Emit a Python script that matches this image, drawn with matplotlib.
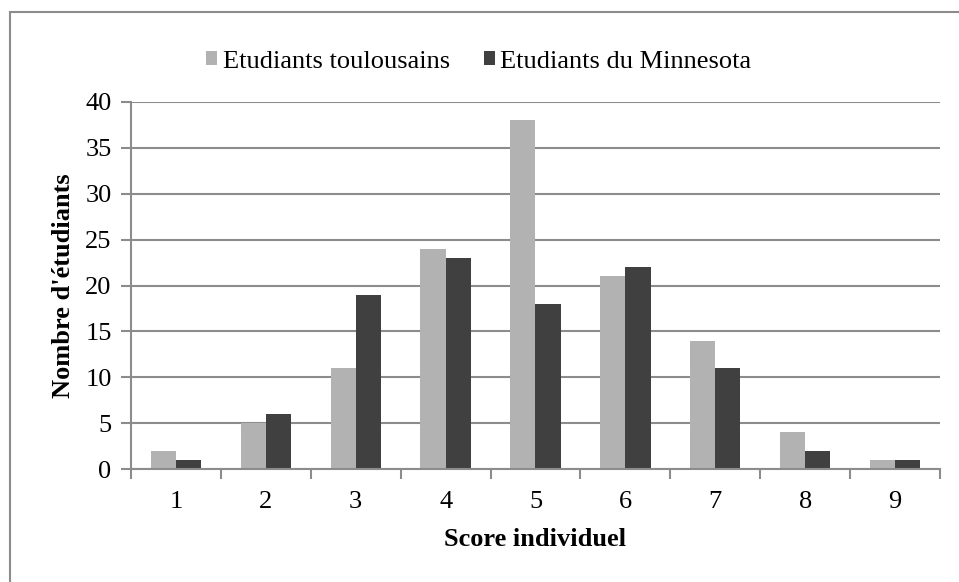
import matplotlib.pyplot as plt
import numpy as np
from matplotlib.patches import Rectangle

plt.rcParams['font.family'] = ['Liberation Serif', 'DejaVu Serif']

scores = ['1', '2', '3', '4', '5', '6', '7', '8', '9']
toulouse = [2, 5, 11, 24, 38, 21, 14, 4, 1]
minnesota = [1, 6, 19, 23, 18, 22, 11, 2, 1]

fs = 19
fig = plt.figure(figsize=(9.59, 5.82), dpi=100)
# cadre exterieur
fig.patches.append(Rectangle((10/959, -0.1), 1.2, (582-12)/582 + 0.1, transform=fig.transFigure,
                             fill=False, edgecolor='#8c8c8c', linewidth=1.5))

ax = fig.add_axes([131/959, 1 - 469/582, (940-131)/959, (469-102)/582])
x = np.arange(len(scores))
w = 0.28
ax.bar(x - w/2, toulouse, w, color='#b2b2b2', label='Etudiants toulousains')
ax.bar(x + w/2, minnesota, w, color='#404040', label='Etudiants du Minnesota')

ax.set_xlim(-0.5, len(scores) - 0.5)
ax.set_ylim(0, 40)
ax.set_yticks(range(0, 41, 5))
ax.yaxis.grid(True, color='#8c8c8c', linewidth=1.5)
ax.set_axisbelow(True)
ax.set_xticks(x)
ax.set_xticklabels(scores)
ax.set_xticks(np.arange(-0.5, len(scores)), minor=True)
ax.tick_params(axis='x', which='major', length=0, pad=16, labelsize=fs)
ax.tick_params(axis='x', which='minor', length=7, width=1.5, color='#8c8c8c', direction='out')
ax.tick_params(axis='y', length=7, width=1.5, color='#8c8c8c', pad=7, labelsize=fs)
for s in ['top', 'right']:
    ax.spines[s].set_visible(False)
for s in ['left', 'bottom']:
    ax.spines[s].set_color('#8c8c8c')
    ax.spines[s].set_linewidth(1.5)

ax.set_ylabel("Nombre d'étudiants", fontsize=fs, fontweight='bold', labelpad=7)
ax.set_xlabel('Score individuel', fontsize=fs, fontweight='bold', labelpad=11)

ax.legend(loc='center', bbox_to_anchor=(0.43, 1.11), ncol=2, frameon=False,
          fontsize=fs, handlelength=0.42, handleheight=0.42, handletextpad=0.2,
          columnspacing=1.3, borderpad=0, borderaxespad=0)

fig.savefig('out.png', dpi=100)
